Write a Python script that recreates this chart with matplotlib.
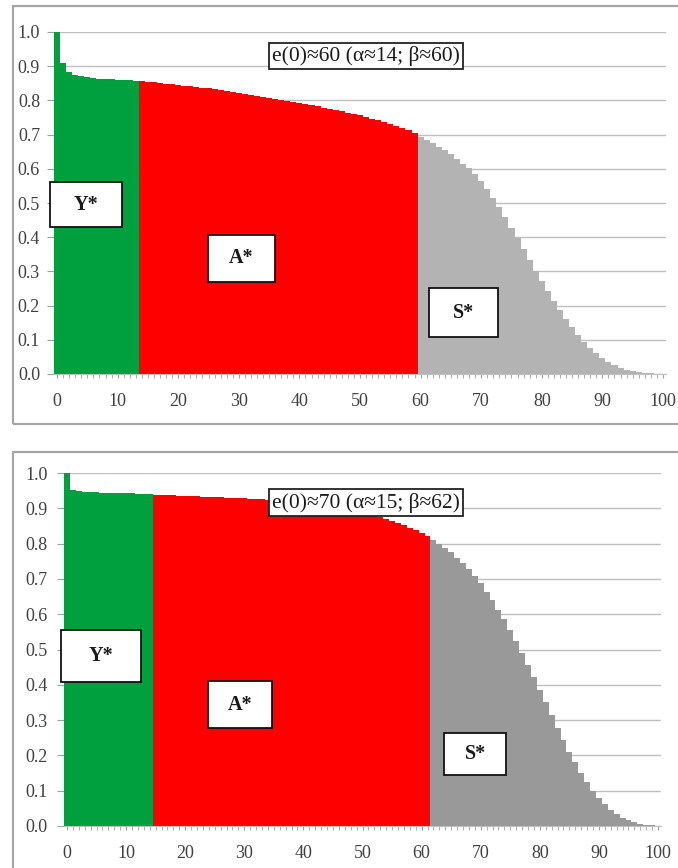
import numpy as np
import matplotlib.pyplot as plt
from matplotlib.patches import Rectangle

# ages 0..100, one bar per age
ages = np.arange(101)

# survival l(x), e(0)=60
surv_60 = [1.0, 0.91, 0.882, 0.875, 0.871, 0.868, 0.866, 0.864, 0.863, 0.862,
           0.861, 0.86, 0.859, 0.858, 0.856, 0.854, 0.853, 0.851, 0.849, 0.847,
           0.845, 0.843, 0.841, 0.839, 0.837, 0.835, 0.832, 0.83, 0.827, 0.824,
           0.822, 0.819, 0.817, 0.814, 0.811, 0.808, 0.805, 0.802, 0.799, 0.796,
           0.793, 0.79, 0.786, 0.783, 0.779, 0.776, 0.772, 0.768, 0.764, 0.76,
           0.756, 0.751, 0.747, 0.742, 0.737, 0.731, 0.726, 0.72, 0.713, 0.705,
           0.693, 0.685, 0.676, 0.665, 0.654, 0.642, 0.629, 0.615, 0.601, 0.585,
           0.564, 0.541, 0.515, 0.488, 0.458, 0.428, 0.397, 0.366, 0.334, 0.302,
           0.272, 0.243, 0.214, 0.187, 0.161, 0.137, 0.114, 0.094, 0.076, 0.06,
           0.046, 0.035, 0.026, 0.018, 0.012, 0.008, 0.005, 0.003, 0.002, 0.001,
           0.0005]

# survival l(x), e(0)=70
surv_70 = [1.0, 0.953, 0.949, 0.947, 0.946, 0.945, 0.944, 0.944, 0.943, 0.943,
           0.942, 0.942, 0.941, 0.941, 0.94, 0.939, 0.938, 0.938, 0.937, 0.936,
           0.935, 0.935, 0.934, 0.933, 0.933, 0.932, 0.931, 0.93, 0.93, 0.929,
           0.928, 0.927, 0.926, 0.925, 0.924, 0.922, 0.921, 0.919, 0.918, 0.916,
           0.914, 0.912, 0.91, 0.908, 0.905, 0.902, 0.899, 0.896, 0.893, 0.89,
           0.886, 0.882, 0.878, 0.874, 0.869, 0.864, 0.858, 0.852, 0.845, 0.838,
           0.83, 0.822, 0.81, 0.8, 0.788, 0.775, 0.76, 0.745, 0.727, 0.708,
           0.687, 0.664, 0.64, 0.613, 0.585, 0.555, 0.524, 0.49, 0.456, 0.421,
           0.386, 0.35, 0.314, 0.279, 0.244, 0.211, 0.18, 0.151, 0.124, 0.1,
           0.079, 0.061, 0.046, 0.034, 0.024, 0.017, 0.011, 0.007, 0.004, 0.002,
           0.001]

alphas = [14, 15]
betas = [60, 62]
titles = ["e(0)\u224860 (\u03b1\u224814; \u03b2\u224860)",
          "e(0)\u224870 (\u03b1\u224815; \u03b2\u224862)"]
grays = ['#B3B3B3', '#999999']

W, H = 678, 868
fig = plt.figure(figsize=(W / 100, H / 100), dpi=100)
serif = ['Liberation Serif', 'DejaVu Serif']


def px_axes(l, r, t, b):
    return fig.add_axes([l / W, 1 - b / H, (r - l) / W, (b - t) / H])


def frame(l, t, r, b):
    fig.patches.append(Rectangle((l / W, 1 - b / H), (r - l) / W, (b - t) / H,
                                 transform=fig.transFigure, fill=False,
                                 ec='#A6A6A6', lw=1.6, clip_on=False))


def label_box(ax, x0, x1, y0, y1, txt):
    ax.add_patch(Rectangle((x0, y0), x1 - x0, y1 - y0, fc='white', ec='#111111',
                           lw=1.3, zorder=5, clip_on=False))
    ax.text((x0 + x1) / 2, (y0 + y1) / 2, txt, ha='center', va='center',
            family=serif, fontsize=14.5, fontweight='bold', color='#1a1a1a', zorder=6)


# outer chart borders (cut off on the right / bottom like the original)
frame(13, 6, 692, 424)
frame(13, 452, 692, 884)

axes = [px_axes(54, 666, 32, 374), px_axes(64, 661, 473, 826)]
data = [surv_60, surv_70]

for i, ax in enumerate(axes):
    vals = data[i]
    cols = ['#00A03E' if a < alphas[i] else '#FF0000' if a < betas[i] else grays[i]
            for a in ages]
    ax.bar(ages, vals, width=1.0, color=cols, linewidth=0, antialiased=False, zorder=2)

    ax.set_xlim(-0.5, 100.5)
    ax.set_ylim(0, 1.0)
    ax.set_yticks(np.arange(0, 1.01, 0.1))
    ax.set_yticklabels(['%.1f' % v for v in np.arange(0, 1.01, 0.1)])
    ax.set_xticks(np.arange(0, 101, 10))
    ax.set_xticks(ages, minor=True)
    ax.grid(axis='y', color='#BFBFBF', lw=1.0, zorder=0)
    ax.set_axisbelow(True)
    for s in ['top', 'right', 'left']:
        ax.spines[s].set_visible(False)
    ax.spines['bottom'].set_color('#BFBFBF')
    ax.tick_params(axis='y', length=5, color='#A0A0A0', pad=5 + i * 2, labelsize=13,
                   labelcolor='#404040')
    ax.tick_params(axis='x', which='both', length=3, color='#A0A0A0', pad=11,
                   labelsize=13, labelcolor='#404040')
    for lab in ax.get_xticklabels() + ax.get_yticklabels():
        lab.set_family(serif)

# label boxes and titles (positions in data units)
ax = axes[0]
label_box(ax, -1.15, 10.7, 0.43, 0.56, 'Y*')
label_box(ax, 24.9, 36.0, 0.27, 0.406, 'A*')
label_box(ax, 61.4, 72.8, 0.108, 0.25, 'S*')
ax.text(51, 0.93, titles[0], ha='center', va='center', family=serif, fontsize=15.5,
        color='#1a1a1a', zorder=6,
        bbox=dict(boxstyle='square,pad=0.15', fc='white', ec='#222222', lw=1.3))

ax = axes[1]
label_box(ax, -1.0, 12.5, 0.408, 0.555, 'Y*')
label_box(ax, 23.9, 34.7, 0.278, 0.41, 'A*')
label_box(ax, 63.8, 74.3, 0.144, 0.263, 'S*')
ax.text(50.6, 0.916, titles[1], ha='center', va='center', family=serif, fontsize=15.5,
        color='#1a1a1a', zorder=6,
        bbox=dict(boxstyle='square,pad=0.15', fc='white', ec='#222222', lw=1.3))

fig.savefig('out.png', dpi=100)
